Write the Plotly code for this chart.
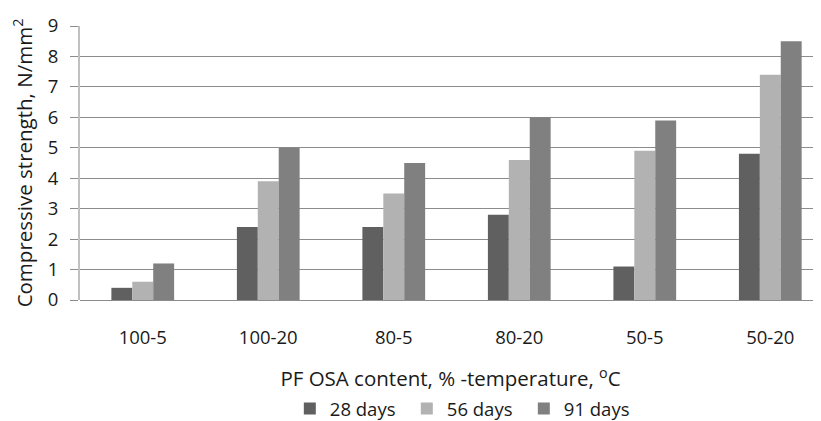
import plotly.graph_objects as go

# category labels (PF OSA content % - temperature)
categories = ['100-5', '100-20', '80-5', '80-20', '50-5', '50-20']

# compressive strength, N/mm2
days28 = [0.4, 2.4, 2.4, 2.8, 1.1, 4.8]
days56 = [0.6, 3.9, 3.5, 4.6, 4.9, 7.4]
days91 = [1.2, 5.0, 4.5, 6.0, 5.9, 8.5]

series_names = ['28 days', '56 days', '91 days']
series_colors = ['#606060', '#b2b2b2', '#808080']

fig = go.Figure()
for name, vals, col in zip(series_names, [days28, days56, days91], series_colors):
    fig.add_trace(go.Bar(x=categories, y=vals, name=name,
                         marker={'color': col, 'line': {'width': 0}}))

# page body has an 8px default margin, so the figure is sized to fit inside the window
fig.update_layout(
    width=813, height=413,
    barmode='group', bargap=0.5, bargroupgap=0,
    plot_bgcolor='white', paper_bgcolor='white',
    font={'family': 'Open Sans, Liberation Sans, sans-serif', 'size': 18.5, 'color': '#1a1a1a'},
    margin={'l': 72, 'r': 0, 't': 18, 'b': 121, 'autoexpand': False},
    showlegend=True,
    legend={'orientation': 'h', 'x': 0.52, 'xanchor': 'center', 'y': -0.398, 'yanchor': 'middle',
            'font': {'size': 18.5}, 'itemwidth': 30, 'traceorder': 'normal',
            'entrywidth': 72, 'entrywidthmode': 'pixels'},
    xaxis={'title': {'text': 'PF OSA content, % -temperature, <sup>o</sup>C', 'standoff': 24,
                     'font': {'size': 20.5}},
           'type': 'category', 'automargin': False,
           'range': [-0.5, 5.404], 'showgrid': False, 'showline': False, 'ticks': '',
           'ticklabelstandoff': 24,
           'tickfont': {'size': 18.5}},
    yaxis={'title': {'text': 'Compressive strength, N/mm<sup>2</sup>', 'standoff': 12,
                     'font': {'size': 20.5}},
           'automargin': False,
           'range': [0, 9], 'dtick': 1, 'showgrid': True, 'gridcolor': '#8c8c8c', 'gridwidth': 1,
           'showline': True, 'linecolor': '#c0c0c0', 'linewidth': 2,
           'ticks': 'outside', 'ticklen': 8, 'tickcolor': '#8c8c8c',
           'zeroline': True, 'zerolinecolor': '#8c8c8c', 'zerolinewidth': 1,
           'ticklabelstandoff': 8,
           'tickfont': {'size': 18.5}},
)

fig.write_html("out.html")
